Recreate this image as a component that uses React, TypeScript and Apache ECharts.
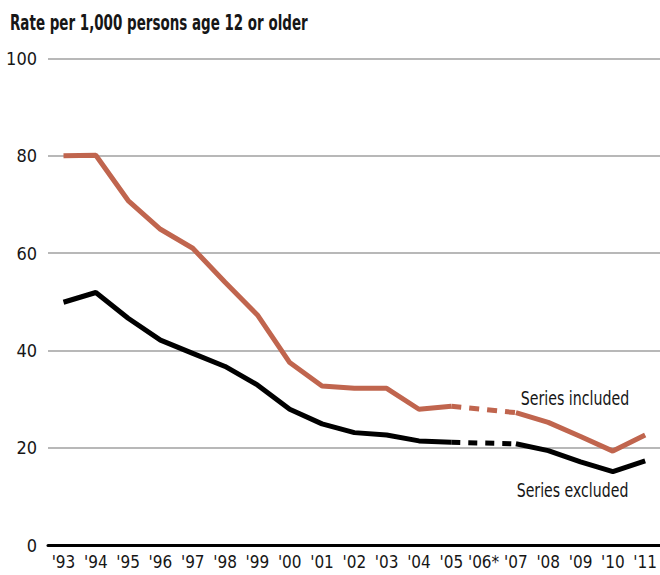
import React, { useEffect, useRef } from "react";
import * as echarts from "echarts";

const categories = ["'93", "'94", "'95", "'96", "'97", "'98", "'99", "'00", "'01", "'02", "'03", "'04", "'05", "'06*", "'07", "'08", "'09", "'10", "'11"];
const includedValues: (number | null)[] = [80, 80.1, 70.8, 64.9, 61.0, 54.0, 47.3, 37.5, 32.7, 32.2, 32.2, 27.9, 28.5, null, 27.2, 25.2, 22.3, 19.3, 22.6];
const excludedValues: (number | null)[] = [49.9, 51.9, 46.6, 42.1, 39.4, 36.7, 32.9, 27.9, 24.9, 23.1, 22.6, 21.4, 21.1, null, 20.8, 19.4, 17.1, 15.1, 17.3];
const yTicks = { min: 0, max: 100, interval: 20 };
const titleText = "Rate per 1,000 persons age 12 or older";
const includedLabel = "Series included";
const excludedLabel = "Series excluded";

const FONT = "'DejaVu Sans Condensed', 'DejaVu Sans', sans-serif";
const ORANGE = "#c0654e";

// bridge across a missing year: only the neighbours of the gap
function bridge(values: (number | null)[]): (number | null)[] {
  return values.map((v, i) => {
    if (v == null) return null;
    const prevGap = i + 1 < values.length && values[i + 1] == null;
    const nextGap = i - 1 >= 0 && values[i - 1] == null;
    return prevGap || nextGap ? v : null;
  });
}

function measure(text: string, font: string): number {
  const c = document.createElement("canvas");
  const ctx = c.getContext("2d");
  if (!ctx) return 1;
  ctx.font = font;
  return ctx.measureText(text).width || 1;
}

function fittedText(text: string, x: number, yMid: number, width: number, size: number, bold: boolean) {
  const w = measure(text, `${bold ? "bold " : ""}${size}px ${FONT}`);
  return {
    type: "text",
    x,
    y: yMid,
    scaleX: width / w,
    style: {
      text,
      x: 0,
      y: 0,
      fontFamily: FONT,
      fontSize: size,
      fontWeight: bold ? "bold" : "normal",
      fill: "#161616",
      verticalAlign: "middle",
      align: "left",
    },
  };
}

export default function App() {
  const ref = useRef<HTMLDivElement>(null);
  useEffect(() => {
    document.body.style.margin = "0";
    const chart = echarts.init(ref.current!, null, { renderer: "svg" });
    const top = 58.5;
    const bottom = 30;
    chart.setOption({
      animation: false,
      grid: [
        { left: 48, right: 0, top, bottom },
        { left: 63.5, right: 6.7, top, bottom },
      ],
      xAxis: [
        {
          gridIndex: 0,
          type: "value",
          min: 0,
          max: 1,
          axisLine: { show: true, onZero: false, lineStyle: { color: "#000", width: 3 } },
          axisTick: { show: false },
          axisLabel: { show: false },
          splitLine: { show: false },
        },
        {
          gridIndex: 1,
          type: "category",
          data: categories,
          boundaryGap: false,
          axisLine: { show: false },
          axisTick: { show: false },
          axisLabel: { show: true, interval: 0, margin: 8, color: "#161616", fontFamily: FONT, fontSize: 17 },
          splitLine: { show: false },
        },
      ],
      yAxis: [
        {
          gridIndex: 0,
          type: "value",
          min: yTicks.min,
          max: yTicks.max,
          interval: yTicks.interval,
          axisLine: { show: false },
          axisTick: { show: false },
          axisLabel: { color: "#161616", fontFamily: FONT, fontSize: 18, margin: 11 },
          splitLine: { show: true, lineStyle: { color: "#a0a0a0", width: 1.5 } },
        },
        {
          gridIndex: 1,
          type: "value",
          min: yTicks.min,
          max: yTicks.max,
          interval: yTicks.interval,
          show: false,
          splitLine: { show: false },
        },
      ],
      series: [
        {
          type: "line",
          xAxisIndex: 1,
          yAxisIndex: 1,
          data: excludedValues,
          showSymbol: false,
          connectNulls: false,
          lineStyle: { color: "#000", width: 5 },
          z: 3,
        },
        {
          type: "line",
          xAxisIndex: 1,
          yAxisIndex: 1,
          data: bridge(excludedValues),
          showSymbol: false,
          connectNulls: true,
          lineStyle: { color: "#000", width: 5, type: [9, 8] },
          z: 3,
        },
        {
          type: "line",
          xAxisIndex: 1,
          yAxisIndex: 1,
          data: includedValues,
          showSymbol: false,
          connectNulls: false,
          lineStyle: { color: ORANGE, width: 5 },
          z: 4,
        },
        {
          type: "line",
          xAxisIndex: 1,
          yAxisIndex: 1,
          data: bridge(includedValues),
          showSymbol: false,
          connectNulls: true,
          lineStyle: { color: ORANGE, width: 5, type: [10, 8] },
          z: 4,
        },
      ],
      graphic: [
        fittedText(titleText, 10, 22.5, 298, 20.5, true),
        fittedText(includedLabel, 520.7, 397.8, 108.6, 19.6, false),
        fittedText(excludedLabel, 516.7, 490.7, 111.6, 19.6, false),
      ],
    });
    return () => chart.dispose();
  }, []);
  return <div ref={ref} style={{ width: 660, height: 575 }} />;
}
